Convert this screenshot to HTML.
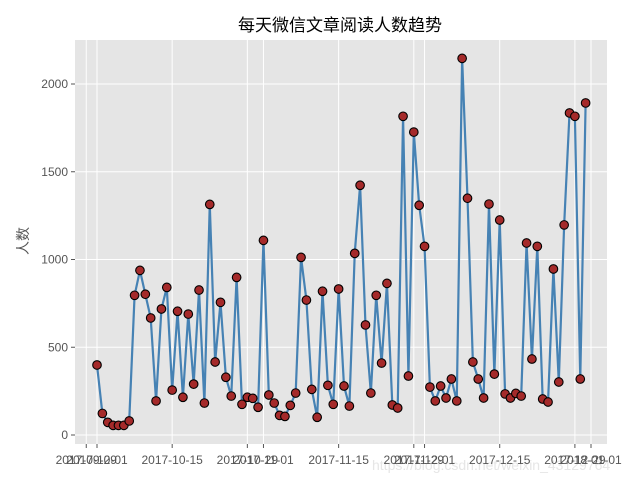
<!DOCTYPE html>
<html><head><meta charset="utf-8"><style>
body{margin:0;background:#fff;}
svg{display:block;font-family:"Liberation Sans","Noto Sans CJK SC",sans-serif;}
</style></head><body>
<svg id="c" width="640" height="480">
<rect x="0" y="0" width="640" height="480" fill="#fff"/>
<text x="340" y="31" text-anchor="middle" font-size="17" fill="#000">每天微信文章阅读人数趋势</text>
<text transform="translate(28,241) rotate(-90)" text-anchor="middle" font-size="14" fill="#555">人数</text>
<text x="372" y="470" font-size="14" fill="#e6e6e6">https://blog.csdn.net/weixin_43129764</text>
</svg>
<script>
const values=[399,123,72,55,55,55,80,796,938,802,667,194,718,841,256,705,215,689,290,826,182,1314,416,756,329,222,898,175,215,209,158,1109,228,182,112,106,169,239,1012,769,260,101,819,283,175,832,279,165,1035,1423,627,239,796,410,864,171,154,1816,336,1726,1309,1075,273,194,279,211,319,194,2146,1349,416,319,211,1316,347,1225,234,211,237,222,1094,433,1075,205,188,946,302,1197,1835,1816,319,1892];
const startDate='2017-10-01';
const xTickDays=[-2,0,14,28,31,45,59,61,75,89,92];
const xTickLabels=['2017-09-29','2017-10-01','2017-10-15','2017-10-29','2017-11-01','2017-11-15','2017-11-29','2017-12-01','2017-12-15','2017-12-29','2018-01-01'];
const yTicks=[0,500,1000,1500,2000];

const svg=document.getElementById('c');
const NS='http://www.w3.org/2000/svg';
const L=75,R=607,T=40,B=444;
const ppd=(591-97)/92;
const x=d=>97+d*ppd;
const y0=435,ppv=(435-84)/2000;
const y=v=>y0-v*ppv;
function mk(t,a,p){const e=document.createElementNS(NS,t);for(const k in a)e.setAttribute(k,a[k]);(p||svg).appendChild(e);return e;}

const bg=mk('rect',{x:L,y:T,width:R-L,height:B-T,fill:'#e5e5e5'});



yTicks.forEach(v=>{
  const g=mk('line',{x1:L,x2:R,y1:y(v),y2:y(v),stroke:'#fff','stroke-width':1});
  
  
  mk('line',{x1:L-4,x2:L,y1:y(v),y2:y(v),stroke:'#555'});
  const t=mk('text',{x:L-7,y:y(v)+4,'text-anchor':'end','font-size':12,fill:'#555'});
  t.textContent=v;
  
  
});
xTickDays.forEach((d,i)=>{
  const g=mk('line',{x1:x(d),x2:x(d),y1:T,y2:B,stroke:'#fff','stroke-width':1});
  
  
  mk('line',{x1:x(d),x2:x(d),y1:B,y2:B+4,stroke:'#555'});
  const t=mk('text',{x:x(d),y:B+20,'text-anchor':'middle','font-size':12,fill:'#555'});
  t.textContent=xTickLabels[i];
  
  
});
const pts=values.map((v,i)=>x(i)+','+y(v)).join(' ');
const line=mk('polyline',{points:pts,fill:'none',stroke:'#4682b4','stroke-width':2.2,'stroke-linejoin':'round'});


values.forEach((v,i)=>{
  const c=mk('circle',{cx:x(i),cy:y(v),r:4.3,fill:'#a52a2a',stroke:'#000','stroke-width':1.1});
  
  
});
</script>
</body></html>
